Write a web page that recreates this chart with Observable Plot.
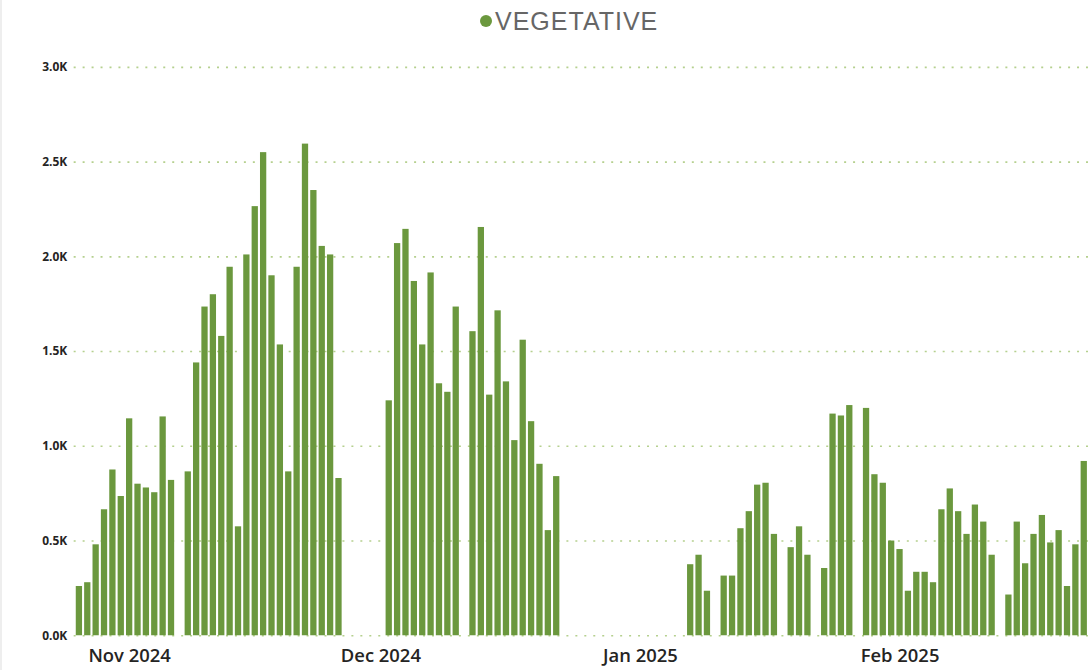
<!DOCTYPE html>
<html>
<head>
<meta charset="utf-8">
<script src="https://cdn.jsdelivr.net/npm/d3@7"></script>
<script src="https://cdn.jsdelivr.net/npm/@observablehq/plot@0.6"></script>
<style>
  html, body { margin: 0; padding: 0; background: #fff; overflow: hidden; width: 1089px; height: 670px; }
  #wrap { position: relative; width: 1089px; height: 670px; overflow: hidden; }
  #edge { position: absolute; left: 0; top: 0; width: 2px; height: 670px; background: #eeeeee; }
  #legend { display: block; }
  #chart svg { display: block; }
</style>
</head>
<body>
<div id="wrap">
  <svg id="legend" width="1089" height="40">
    <circle cx="486" cy="21" r="6" fill="#6b983e"></circle>
    <text x="495" y="29.5" font-family="'Liberation Sans', Arial, sans-serif" font-size="25" letter-spacing="1" fill="#666666">VEGETATIVE</text>
  </svg>
  <div id="chart"></div>
  <div id="edge"></div>
</div>
<script>
// ---- data ----
const seriesName = "VEGETATIVE";
const startDate = "2024-10-26";
// daily values (null = no data that day), from 2024-10-26 to 2025-02-23
const vegetative = [
  260, 280, 480, 665, 875, 735,                                   // Oct 26 - Oct 31
  1145, 800, 780, 755, 1155, 820, null, 865, 1440, 1735,           // Nov 1 - Nov 10
  1800, 1580, 1945, 575, 2010, 2265, 2550, 1900, 1535, 865,        // Nov 11 - Nov 20
  1945, 2595, 2350, 2055, 2010, 830, null, null, null, null,       // Nov 21 - Nov 30
  null, 1240, 2070, 2145, 1870, 1535, 1915, 1330, 1285, 1735,      // Dec 1 - Dec 10
  null, 1605, 2155, 1270, 1715, 1340, 1030, 1560, 1130, 905,       // Dec 11 - Dec 20
  555, 840, null, null, null, null, null, null, null, null, null,  // Dec 21 - Dec 31
  null, null, null, null, null, null, 375, 425, 235, null,         // Jan 1 - Jan 10
  315, 315, 565, 655, 795, 805, 535, null, 465, 575,               // Jan 11 - Jan 20
  425, null, 355, 1170, 1160, 1215, null, 1200, 850, 805, 500,     // Jan 21 - Jan 31
  455, 235, 335, 335, 280, 665, 775, 655, 535, 690,                // Feb 1 - Feb 10
  600, 425, null, 215, 600, 380, 535, 635, 490, 555,               // Feb 11 - Feb 20
  260, 480, 920                                                     // Feb 21 - Feb 23
];
const monthTicks = ["2024-11-01", "2024-12-01", "2025-01-01", "2025-02-01"];
const yTicks = [0, 500, 1000, 1500, 2000, 2500, 3000];

// ---- build table ----
const start = new Date(startDate + "T00:00:00Z");
const dates = vegetative.map((_, i) => d3.utcDay.offset(start, i));
const rows = dates.map((date, i) => ({date, value: vegetative[i]})).filter(d => d.value != null);
const tickDates = monthTicks.map(s => new Date(s + "T00:00:00Z"));

const chart = Plot.plot({
  width: 1094,
  height: 630,
  marginLeft: 74,
  marginRight: 0,
  marginTop: 27,
  marginBottom: 32,
  style: {fontFamily: "'Open Sans', sans-serif", background: "transparent", overflow: "visible"},
  x: {type: "band", domain: dates, padding: 0.25, align: 0.5},
  y: {domain: [0, 3000]},
  marks: [
    Plot.ruleY(yTicks, {stroke: "#b5d08e", strokeWidth: 1.6, strokeDasharray: "2,7"}),
    Plot.barY(rows, {x: "date", y: "value", fill: "#6b983e"}),
    Plot.axisY(yTicks, {tickSize: 0, tickPadding: 7, label: null, fontSize: 12, fontWeight: 700, fill: "#252423",
      tickFormat: d => (d / 1000).toFixed(1) + "K"}),
    Plot.axisX(tickDates, {tickSize: 0, tickPadding: 13, label: null, fontSize: 18.5, fontWeight: 600, fill: "#252423",
      tickFormat: d3.utcFormat("%b %Y")})
  ]
});
document.getElementById("chart").appendChild(chart);
</script>
</body>
</html>
